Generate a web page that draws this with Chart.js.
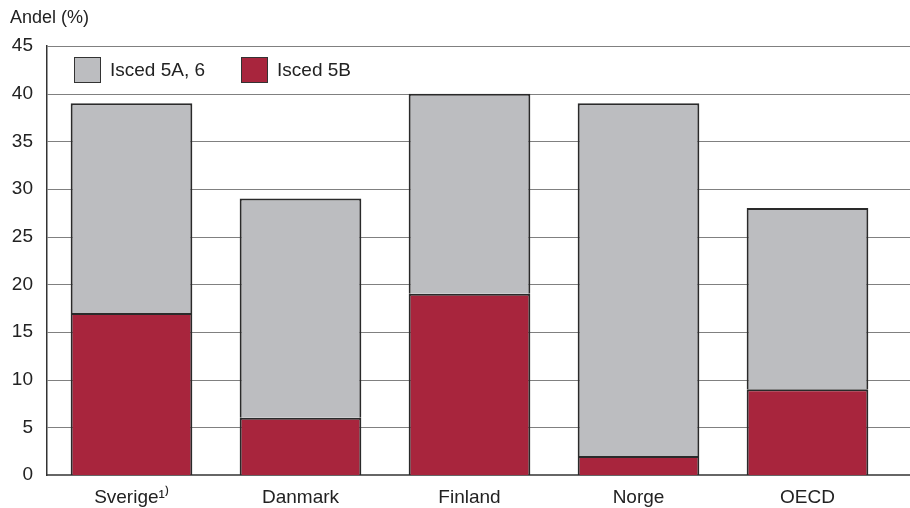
<!DOCTYPE html>
<html lang="sv">
<head>
<meta charset="UTF-8">
<title>Andel (%)</title>
<script src="https://cdn.jsdelivr.net/npm/chart.js"></script>
<style>
    body { margin: 0; background: #fff; }
    #wrap { position: relative; width: 910px; height: 508px; font-family: "Liberation Sans", Arial, sans-serif; color: #222; }
    #ytitle { position: absolute; left: 10px; top: 7px; font-size: 18px; }
    #legend { position: absolute; left: 74px; top: 57px; font-size: 19px; display: flex; align-items: center; }
    #legend span.box { display: inline-block; width: 25px; height: 24px; border: 1.5px solid #333; margin-right: 9px; }
    #legend span.lbl { margin-right: 36px; }
</style>
</head>
<body>
<div id="wrap">
    <canvas id="chart" width="910" height="508"></canvas>
    <div id="ytitle">Andel (%)</div>
    <div id="legend">
        <span class="box" style="background:#BCBDC0"></span><span class="lbl">Isced 5A, 6</span>
        <span class="box" style="background:#A8253D"></span><span class="lbl">Isced 5B</span>
    </div>
</div>

<script>
    // data
    const countries = ["Sverige\u00B9\u207E", "Danmark", "Finland", "Norge", "OECD"];
    const isced5B = [17, 6, 19, 2, 9];
    const isced5A6 = [22, 23, 21, 37, 19];
    const yTicks = [0, 5, 10, 15, 20, 25, 30, 35, 40, 45];

    const font = { family: '"Liberation Sans", Arial, sans-serif', size: 19 };

    // grid lines run past the last bar to the right edge
    const gridPlugin = {
        id: 'grid',
        beforeDatasetsDraw(chart) {
            const c = chart.ctx, y = chart.scales.y, a = chart.chartArea;
            c.save();
            c.strokeStyle = '#808080';
            c.lineWidth = 1.2;
            yTicks.forEach(v => {
                if (v === 0) return;
                const py = Math.round(y.getPixelForValue(v)) + 0.5;
                c.beginPath();
                c.moveTo(a.left, py);
                c.lineTo(chart.width, py);
                c.stroke();
            });
            c.strokeStyle = '#333';
            c.lineWidth = 1.5;
            const py0 = y.getPixelForValue(0);
            c.beginPath();
            c.moveTo(a.left, py0);
            c.lineTo(chart.width, py0);
            c.stroke();
            c.restore();
        }
    };

    new Chart(document.getElementById('chart'), {
        type: 'bar',
        data: {
            labels: countries,
            datasets: [
                { label: 'Isced 5B', data: isced5B, backgroundColor: '#A8253D', borderColor: '#2a2a2a', borderWidth: 2 },
                { label: 'Isced 5A, 6', data: isced5A6, backgroundColor: '#BCBDC0', borderColor: '#2a2a2a', borderWidth: 2 }
            ]
        },
        options: {
            responsive: false,
            animation: false,
            layout: { padding: { top: 46, right: 18, left: 0, bottom: 0 } },
            plugins: { legend: { display: false }, tooltip: { enabled: false } },
            datasets: { bar: { categoryPercentage: 1, barPercentage: 0.72 } },
            scales: {
                x: {
                    stacked: true,
                    grid: { display: false },
                    border: { display: false },
                    ticks: { color: '#222', font: font, padding: 3 },
                    afterFit(s) { s.height = 33; }
                },
                y: {
                    stacked: true,
                    min: 0, max: 45,
                    afterBuildTicks(s) { s.ticks = yTicks.map(v => ({ value: v })); },
                    grid: { display: false, drawTicks: false },
                    border: { display: true, color: '#333', width: 1.5 },
                    ticks: { color: '#222', font: font, padding: 14 },
                    afterFit(s) { s.width = 47; }
                }
            }
        },
        plugins: [gridPlugin]
    });
</script>
</body>
</html>
